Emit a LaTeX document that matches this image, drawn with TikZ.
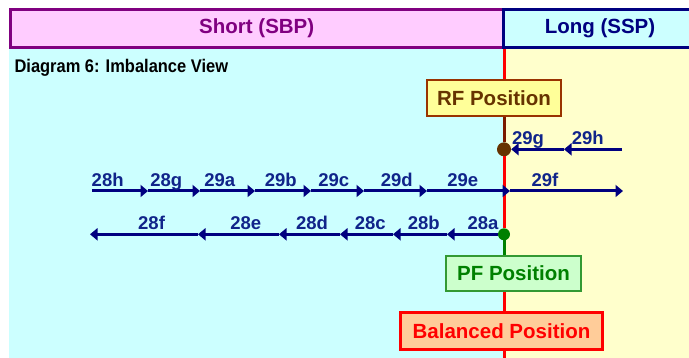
\documentclass[tikz,border=0pt]{standalone}
\usepackage{fontspec}
\setmainfont{Liberation Sans}
\newfontfamily\narrowfont[FakeStretch=0.9]{Liberation Sans}
\usepackage{xcolor}
\usepackage{tikz}
\usetikzlibrary{positioning, arrows.meta}
\definecolor{navyc}{HTML}{000080}
\definecolor{lblc}{HTML}{10248A}
\definecolor{purp}{HTML}{800080}
\definecolor{pinkf}{HTML}{FFCCFF}
\definecolor{cyanb}{HTML}{CCFFFF}
\definecolor{yellowb}{HTML}{FFFFCC}
\definecolor{rfline}{HTML}{993300}
\definecolor{rftext}{HTML}{663300}
\definecolor{rffill}{HTML}{FFFF99}
\definecolor{pfline}{HTML}{339933}
\definecolor{pftext}{HTML}{008000}
\definecolor{pffill}{HTML}{CCFFCC}
\definecolor{balfill}{HTML}{FFCC99}
\definecolor{redc}{HTML}{FF0000}
\definecolor{brownd}{HTML}{663300}
\definecolor{brownl}{HTML}{7A1A00}

\begin{document}
\begin{tikzpicture}[x=1pt,y=-1pt,
		big/.style={font=\fontsize{20.5}{24}\selectfont\bfseries},
		hdr/.style 2 args={
			rectangle,
			draw=#1,
			fill=#2,
			text=#1,
			line width=3pt,
			minimum height=38pt,
			inner sep=0pt,
			big},
		posbox/.style n args={3}{
			rectangle,
			draw=#1,
			fill=#2,
			text=#3,
			line width=2pt,
			inner sep=0pt,
			big},
		lbl/.style={font=\fontsize{18.5}{22}\selectfont\bfseries, text=lblc, anchor=base, yshift=4.3pt},
		flow/.style={draw=navyc, line width=3pt, -{Triangle[length=7.5pt,width=12pt]}},
		vline/.style={draw=#1, line width=3pt}
		]
		\useasboundingbox (0,0) rectangle (689,358);
		\fill[cyanb] (9,49) rectangle (504,358);
		\fill[yellowb] (504,49) rectangle (689,358);
		\node[hdr={purp}{pinkf}, minimum width=492.5pt] (short) at (256.75,28.5) {Short (SBP)};
		\node[hdr={navyc}{cyanb}, minimum width=194pt] (long) at (600,28.5) {Long (SSP)};
		\node[anchor=base west, font=\narrowfont\fontsize{18.3}{20}\selectfont\bfseries] (title) at (11,73) {Diagram 6: Imbalance View};
		\node[posbox={rfline}{rffill}{rftext}, minimum width=134.6pt, minimum height=36pt] (rf) at (494,98) {RF Position};
		\node[posbox={pfline}{pffill}{pftext}, minimum width=135pt, minimum height=35pt] (pf) at (513.5,273.5) {PF Position};
		\node[posbox={redc}{balfill}{redc}, line width=3pt, minimum width=202pt, minimum height=37pt] (bal) at (501.5,331) {Balanced Position};
		\coordinate (vtop) at (504,49);
		\coordinate (vbot) at (504,358);
		\node[circle, fill=brownd, inner sep=0pt, minimum size=14pt] (bdot) at (504,149.3) {};
		\node[circle, fill=pftext, inner sep=0pt, minimum size=12pt] (gdot) at (504,234.3) {};
		\draw[vline=redc] (vtop) -- (vtop |- rf.north);
		\draw[vline=brownl] (vtop |- rf.south) -- (bdot);
		\draw[vline=redc] (bdot) -- (gdot);
		\draw[vline=pftext] (gdot) -- (vtop |- pf.north);
		\draw[vline=redc] (vtop |- pf.south) -- (vtop |- bal.north);
		\draw[vline=redc] (vtop |- bal.south) -- (vbot);
		\coordinate (u0) at (622,149.3);
		\coordinate (u1) at (564,149.3);
		\draw[flow] (u0) to node[lbl,pos=.59]{29h} (u1);
		\draw[flow] (u1) to node[lbl,pos=.68]{29g} (bdot);
		\coordinate (m0) at (92,191);
		\coordinate (m1) at (148,191);
		\coordinate (m2) at (200,191);
		\coordinate (m3) at (255,191);
		\coordinate (m4) at (311,191);
		\coordinate (m5) at (364,191);
		\coordinate (m6) at (427,191);
		\coordinate (m7) at (510,191);
		\coordinate (m8) at (623,191);
		\draw[flow] (m0) to node[lbl,pos=.28]{28h} (m1);
		\draw[flow] (m1) to node[lbl,pos=.35]{28g} (m2);
		\draw[flow] (m2) to node[lbl,pos=.36]{29a} (m3);
		\draw[flow] (m3) to node[lbl,pos=.46]{29b} (m4);
		\draw[flow] (m4) to node[lbl,pos=.43]{29c} (m5);
		\draw[flow] (m5) to node[lbl,pos=.52]{29d} (m6);
		\draw[flow] (m6) to node[lbl,pos=.43]{29e} (m7);
		\draw[flow] (m7) to node[lbl,pos=.31]{29f} (m8);
		\coordinate (d1) at (447,234.3);
		\coordinate (d2) at (393,234.3);
		\coordinate (d3) at (340,234.3);
		\coordinate (d4) at (279,234.3);
		\coordinate (d5) at (198,234.3);
		\coordinate (d6) at (90,234.3);
		\draw[flow] (gdot) to node[lbl,pos=.29]{28a} (d1);
		\draw[flow] (d1) to node[lbl,pos=.43]{28b} (d2);
		\draw[flow] (d2) to node[lbl,pos=.43]{28c} (d3);
		\draw[flow] (d3) to node[lbl,pos=.46]{28d} (d4);
		\draw[flow] (d4) to node[lbl,pos=.41]{28e} (d5);
		\draw[flow] (d5) to node[lbl,pos=.43]{28f} (d6);
	\end{tikzpicture}
\end{document}
